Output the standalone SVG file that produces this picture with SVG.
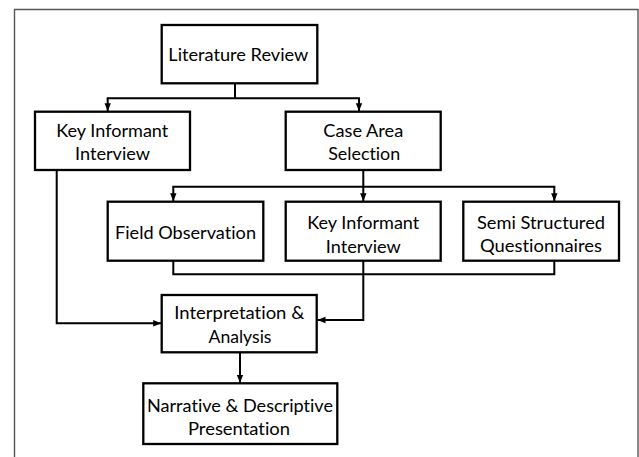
<svg xmlns="http://www.w3.org/2000/svg" width="639" height="457" viewBox="0 0 639 457">
<defs>
<marker id="ah" markerUnits="userSpaceOnUse" markerWidth="8" markerHeight="8" viewBox="0 0 8 8" refX="8" refY="4" orient="auto">
<path d="M0,0.8 L8,4 L0,7.2 Z" fill="#000"/>
</marker>
<style>
.box{fill:#fff;stroke:#000;stroke-width:2.3}
.t{font-family:Lato,"Liberation Sans",sans-serif;font-size:18px;fill:#000;text-anchor:middle;font-variant-ligatures:none;font-feature-settings:"liga" 0}
.c{fill:none;stroke:#000;stroke-width:2}
.a{fill:none;stroke:#000;stroke-width:2;marker-end:url(#ah)}
</style>
</defs>
<rect width="639" height="457" fill="#fff"/>
<path d="M14.5,460 V9.5 H638 V460" fill="none" stroke="#555" stroke-width="1.4"/>
<g id="connectors">
<path class="c" d="M235,83.3 V98.3 M106.7,98.3 H360"/>
<path class="a" d="M107.7,98.3 V111.2"/>
<path class="a" d="M359,98.3 V111.2"/>
<path class="c" d="M363.3,170 V186.7 M172.3,186.7 H555.3"/>
<path class="a" d="M173.3,186.7 V201.2"/>
<path class="a" d="M363.3,186.7 V201.2"/>
<path class="a" d="M554.3,186.7 V201.2"/>
<path class="c" d="M173.3,260.7 V274.3 H554.3 V260.7"/>
<path class="a" d="M363.3,260.7 V320 H317.5"/>
<path class="a" d="M56.7,170 V323.3 H161.2"/>
<path class="a" d="M240,352.3 V382.8"/>
</g>
<g id="literature-review">
<rect class="box" x="161.7" y="25" width="155.6" height="58.3"/>
<text class="t" x="238.3" y="61" textLength="140" lengthAdjust="spacingAndGlyphs">Literature Review</text>
</g>
<g id="key-informant-1">
<rect class="box" x="35" y="111.7" width="155" height="58.3"/>
<text class="t" x="112.3" y="136.7" textLength="112" lengthAdjust="spacingAndGlyphs">Key Informant</text>
<text class="t" x="112.5" y="160" textLength="75" lengthAdjust="spacingAndGlyphs">Interview</text>
</g>
<g id="case-area">
<rect class="box" x="285.7" y="111.7" width="155" height="58.3"/>
<text class="t" x="363.3" y="136.7" textLength="80" lengthAdjust="spacingAndGlyphs">Case Area</text>
<text class="t" x="364.2" y="160" textLength="72" lengthAdjust="spacingAndGlyphs">Selection</text>
</g>
<g id="field-observation">
<rect class="box" x="107.7" y="201.7" width="155.6" height="59"/>
<text class="t" x="185.5" y="239.3" textLength="141" lengthAdjust="spacingAndGlyphs">Field Observation</text>
</g>
<g id="key-informant-2">
<rect class="box" x="285.7" y="201.7" width="155" height="59"/>
<text class="t" x="363.3" y="229" textLength="112" lengthAdjust="spacingAndGlyphs">Key Informant</text>
<text class="t" x="363.3" y="252.5" textLength="75" lengthAdjust="spacingAndGlyphs">Interview</text>
</g>
<g id="semi-structured">
<rect class="box" x="463.3" y="201.7" width="155.7" height="59"/>
<text class="t" x="541" y="228.5" textLength="128" lengthAdjust="spacingAndGlyphs">Semi Structured</text>
<text class="t" x="541" y="252" textLength="122" lengthAdjust="spacingAndGlyphs">Questionnaires</text>
</g>
<g id="interpretation">
<rect class="box" x="161.7" y="295" width="155" height="57.3"/>
<text class="t" x="239.3" y="319" textLength="130" lengthAdjust="spacingAndGlyphs">Interpretation &amp;</text>
<text class="t" x="240" y="342.7" textLength="63" lengthAdjust="spacingAndGlyphs">Analysis</text>
</g>
<g id="narrative">
<rect class="box" x="143.3" y="383.3" width="194" height="60.7"/>
<text class="t" x="240" y="412.3" textLength="186" lengthAdjust="spacingAndGlyphs">Narrative &amp; Descriptive</text>
<text class="t" x="239" y="435" textLength="102" lengthAdjust="spacingAndGlyphs">Presentation</text>
</g>
</svg>
